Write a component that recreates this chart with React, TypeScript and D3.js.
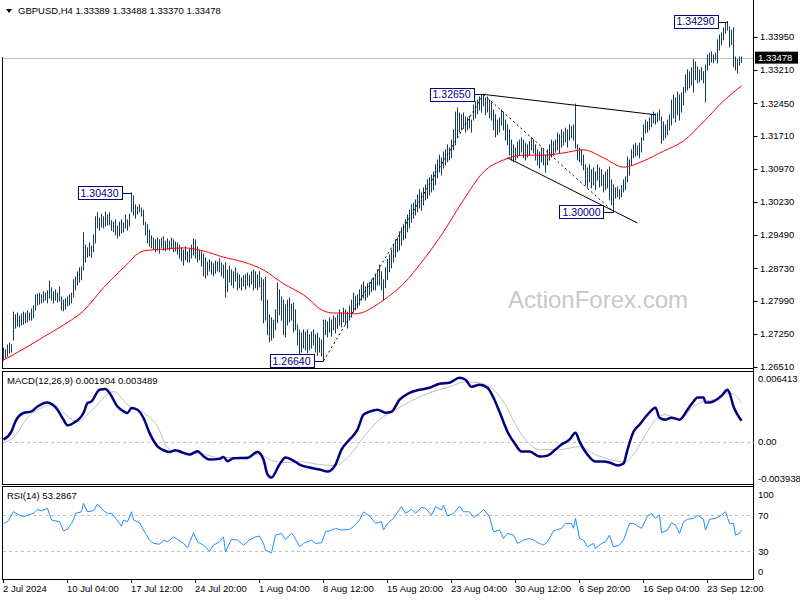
import React from 'react';
import * as d3 from 'd3';

// ---------- DATA ----------
const barHigh = [
1.2693,1.2689,1.2700,1.2704,1.2700,1.2774,1.2768,1.2772,1.2765,1.2770,
1.2774,1.2772,1.2777,1.2772,1.2781,1.2788,1.2813,1.2815,1.2817,1.2813,
1.2820,1.2817,1.2822,1.2844,1.2829,1.2820,1.2824,1.2817,1.2831,1.2808,
1.2801,1.2804,1.2808,1.2813,1.2817,1.2847,1.2853,1.2865,1.2874,1.2876,
1.2953,1.2925,1.2919,1.2930,1.2923,1.2948,1.2989,1.2998,1.2986,1.2995,
1.2989,1.3000,1.2993,1.2998,1.2980,1.2977,1.2982,1.2968,1.2977,1.2982,
1.2975,1.2993,1.2982,1.2995,1.3043,1.3036,1.3016,1.3011,1.3016,1.3009,
1.3004,1.2977,1.2971,1.2959,1.2946,1.2941,1.2937,1.2941,1.2937,1.2941,
1.2944,1.2934,1.2939,1.2934,1.2941,1.2937,1.2932,1.2930,1.2925,1.2919,
1.2914,1.2921,1.2910,1.2916,1.2925,1.2939,1.2937,1.2921,1.2914,1.2910,
1.2905,1.2896,1.2887,1.2892,1.2887,1.2883,1.2889,1.2887,1.2894,1.2885,
1.2880,1.2885,1.2869,1.2878,1.2869,1.2865,1.2874,1.2862,1.2858,1.2851,
1.2856,1.2858,1.2862,1.2856,1.2865,1.2869,1.2865,1.2858,1.2865,1.2851,
1.2847,1.2853,1.2801,1.2768,1.2761,1.2756,1.2779,1.2840,1.2824,1.2808,
1.2801,1.2790,1.2801,1.2806,1.2792,1.2795,1.2779,1.2745,1.2734,1.2727,
1.2734,1.2729,1.2734,1.2723,1.2729,1.2734,1.2723,1.2727,1.2716,1.2711,
1.2756,1.2756,1.2752,1.2761,1.2756,1.2765,1.2761,1.2768,1.2779,1.2772,
1.2783,1.2779,1.2774,1.2788,1.2801,1.2817,1.2810,1.2813,1.2824,1.2835,
1.2842,1.2831,1.2838,1.2840,1.2847,1.2851,1.2858,1.2869,1.2880,1.2865,
1.2847,1.2874,1.2892,1.2903,1.2914,1.2925,1.2937,1.2941,1.2955,1.2964,
1.2971,1.2982,1.2993,1.3004,1.3016,1.3020,1.3027,1.3038,1.3050,1.3043,
1.3054,1.3061,1.3072,1.3077,1.3083,1.3090,1.3106,1.3117,1.3128,1.3122,
1.3135,1.3140,1.3151,1.3144,1.3162,1.3185,1.3225,1.3234,1.3223,1.3219,
1.3223,1.3214,1.3212,1.3216,1.3207,1.3241,1.3248,1.3252,1.3259,1.3264,
1.3265,1.3257,1.3259,1.3252,1.3246,1.3230,1.3219,1.3207,1.3212,1.3230,
1.3225,1.3207,1.3196,1.3185,1.3162,1.3151,1.3144,1.3158,1.3162,1.3167,
1.3162,1.3155,1.3151,1.3158,1.3167,1.3162,1.3151,1.3140,1.3135,1.3144,
1.3140,1.3128,1.3140,1.3151,1.3162,1.3158,1.3162,1.3178,1.3174,1.3185,
1.3180,1.3189,1.3185,1.3196,1.3192,1.3196,1.3243,1.3151,1.3144,1.3140,
1.3128,1.3106,1.3099,1.3106,1.3095,1.3099,1.3090,1.3106,1.3099,1.3095,
1.3083,1.3090,1.3095,1.3101,1.3072,1.3061,1.3054,1.3056,1.3050,1.3059,
1.3072,1.3079,1.3124,1.3117,1.3140,1.3151,1.3155,1.3149,1.3155,1.3167,
1.3196,1.3207,1.3203,1.3212,1.3219,1.3225,1.3221,1.3223,1.3230,1.3214,
1.3203,1.3196,1.3207,1.3219,1.3252,1.3264,1.3257,1.3270,1.3264,1.3268,
1.3280,1.3309,1.3320,1.3316,1.3325,1.3343,1.3338,1.3327,1.3320,1.3325,
1.3316,1.3331,1.3354,1.3358,1.3361,1.3354,1.3358,1.3388,1.3399,1.3403,
1.3415,1.3426,1.3429,1.3417,1.3410,1.3415,1.3349,1.3343,1.3349,1.33488
];

const barLow = [
1.2666,1.2671,1.2675,1.2682,1.2684,1.2711,1.2738,1.2743,1.2741,1.2745,
1.2747,1.2750,1.2752,1.2756,1.2756,1.2761,1.2779,1.2790,1.2792,1.2795,
1.2797,1.2801,1.2795,1.2806,1.2801,1.2795,1.2801,1.2797,1.2799,1.2779,
1.2777,1.2781,1.2788,1.2790,1.2795,1.2808,1.2824,1.2835,1.2842,1.2847,
1.2869,1.2887,1.2898,1.2901,1.2898,1.2910,1.2930,1.2964,1.2959,1.2966,
1.2964,1.2968,1.2971,1.2971,1.2959,1.2955,1.2948,1.2941,1.2946,1.2953,
1.2955,1.2964,1.2959,1.2968,1.3000,1.2993,1.2986,1.2995,1.3000,1.2991,
1.2971,1.2948,1.2930,1.2923,1.2919,1.2916,1.2910,1.2914,1.2907,1.2919,
1.2914,1.2912,1.2916,1.2914,1.2919,1.2910,1.2912,1.2905,1.2896,1.2889,
1.2880,1.2892,1.2887,1.2887,1.2896,1.2903,1.2896,1.2887,1.2892,1.2878,
1.2856,1.2851,1.2858,1.2867,1.2860,1.2856,1.2862,1.2867,1.2865,1.2856,
1.2851,1.2808,1.2820,1.2842,1.2835,1.2829,1.2844,1.2824,1.2829,1.2824,
1.2833,1.2826,1.2835,1.2831,1.2838,1.2824,1.2829,1.2824,1.2831,1.2801,
1.2750,1.2756,1.2723,1.2707,1.2711,1.2716,1.2734,1.2750,1.2768,1.2756,
1.2723,1.2718,1.2745,1.2752,1.2756,1.2729,1.2734,1.2700,1.2677,1.2684,
1.2693,1.2689,1.2682,1.2689,1.2693,1.2700,1.2684,1.2677,1.2684,1.2675,
1.2664,1.2723,1.2718,1.2729,1.2720,1.2734,1.2727,1.2738,1.2745,1.2741,
1.2752,1.2747,1.2738,1.2756,1.2763,1.2774,1.2779,1.2783,1.2790,1.2801,
1.2806,1.2801,1.2808,1.2813,1.2820,1.2824,1.2824,1.2835,1.2835,1.2824,
1.2801,1.2829,1.2847,1.2865,1.2874,1.2887,1.2898,1.2910,1.2914,1.2925,
1.2937,1.2941,1.2955,1.2964,1.2977,1.2986,1.2993,1.3000,1.3009,1.3004,
1.3016,1.3027,1.3031,1.3038,1.3045,1.3050,1.3061,1.3077,1.3090,1.3083,
1.3099,1.3106,1.3113,1.3117,1.3122,1.3140,1.3151,1.3167,1.3180,1.3185,
1.3189,1.3180,1.3185,1.3189,1.3180,1.3207,1.3212,1.3221,1.3230,1.3225,
1.3239,1.3219,1.3225,1.3212,1.3207,1.3185,1.3169,1.3174,1.3180,1.3196,
1.3185,1.3162,1.3151,1.3128,1.3117,1.3113,1.3117,1.3122,1.3128,1.3135,
1.3122,1.3117,1.3124,1.3128,1.3140,1.3133,1.3117,1.3106,1.3099,1.3113,
1.3106,1.3090,1.3106,1.3117,1.3124,1.3128,1.3135,1.3140,1.3133,1.3146,
1.3151,1.3158,1.3146,1.3162,1.3167,1.3162,1.3144,1.3117,1.3113,1.3106,
1.3095,1.3061,1.3056,1.3068,1.3054,1.3061,1.3050,1.3072,1.3056,1.3059,
1.3045,1.3050,1.3054,1.3027,1.3016,1.3000,1.3031,1.3034,1.3029,1.3034,
1.3045,1.3050,1.3068,1.3083,1.3106,1.3122,1.3126,1.3128,1.3122,1.3135,
1.3162,1.3178,1.3180,1.3185,1.3192,1.3201,1.3198,1.3203,1.3207,1.3155,
1.3162,1.3167,1.3174,1.3185,1.3196,1.3212,1.3203,1.3219,1.3207,1.3225,
1.3241,1.3270,1.3275,1.3280,1.3286,1.3270,1.3298,1.3291,1.3293,1.3298,
1.3291,1.3248,1.3320,1.3331,1.3338,1.3336,1.3343,1.3336,1.3365,1.3377,
1.3388,1.3403,1.3410,1.3372,1.3377,1.3327,1.3320,1.3313,1.3331,1.33370
];

// moving average samples [bar index, price]
const maLine: [number, number][] = [
[0,1.2666],[10,1.2691],[20,1.2718],[30,1.2745],[40,1.2777],[50,1.2829],[60,1.2874],
[70,1.2912],[80,1.2916],[90,1.2919],[100,1.2912],[110,1.2898],[120,1.2887],[130,1.2869],
[140,1.2838],[150,1.2813],[160,1.2777],[165,1.2772],[170,1.2772],[175,1.2770],[180,1.2774],
[185,1.2786],[190,1.2801],[200,1.2838],[210,1.2892],[220,1.2955],[230,1.3027],[240,1.3090],
[250,1.3117],[260,1.3128],[270,1.3128],[280,1.3133],[290,1.3140],[300,1.3122],[310,1.3101],
[320,1.3115],[330,1.3137],[340,1.3160],[350,1.3203],[360,1.3250],[369,1.3284]
];

const macdLine: [number, number][] = [
[0,0.00017],[4,0.00093],[6,0.00184],[10,0.00261],[14,0.00276],[17,0.00321],[22,0.00358],[27,0.00291],
[30,0.00200],[32,0.00148],[35,0.00170],[40,0.00261],[42,0.00352],[44,0.00367],[48,0.00474],[51,0.00480],
[53,0.00444],[57,0.00321],[60,0.00276],[62,0.00261],[64,0.00307],[67,0.00291],[70,0.00215],[73,0.00079],
[77,-0.00044],[80,-0.00080],[83,-0.00095],[86,-0.00080],[90,-0.00104],[93,-0.00120],[97,-0.00089],
[100,-0.00135],[103,-0.00165],[108,-0.00159],[110,-0.00141],[112,-0.00181],[115,-0.00153],[122,-0.00150],
[127,-0.00095],[130,-0.00165],[132,-0.00302],[134,-0.00330],[138,-0.00211],[141,-0.00147],[144,-0.00165],
[148,-0.00211],[153,-0.00238],[158,-0.00257],[162,-0.00275],[166,-0.00211],[169,-0.00074],[173,0.00017],
[177,0.00109],[180,0.00246],[183,0.00273],[187,0.00291],[191,0.00264],[194,0.00273],[198,0.00383],
[203,0.00446],[208,0.00474],[213,0.00492],[218,0.00529],[223,0.00538],[228,0.00584],[231,0.00566],
[234,0.00501],[238,0.00520],[242,0.00492],[245,0.00401],[248,0.00273],[252,0.00090],[256,-0.00028],
[259,-0.00092],[263,-0.00092],[268,-0.00138],[272,-0.00129],[276,-0.00074],[279,-0.00028],[283,0.00017],
[286,0.00081],[288,-0.00001],[292,-0.00120],[296,-0.00184],[300,-0.00184],[303,-0.00193],[307,-0.00220],
[310,-0.00202],[312,-0.00074],[315,0.00090],[318,0.00154],[322,0.00246],[326,0.00310],[328,0.00218],
[331,0.00200],[334,0.00218],[338,0.00200],[342,0.00291],[345,0.00367],[347,0.00404],[350,0.00404],
[351,0.00358],[353,0.00358],[357,0.00389],[359,0.00419],[362,0.00474],[363,0.00444],[365,0.00321],
[367,0.00246],[369,0.00190]
];

const signalLine: [number, number][] = [
[0,-0.00010],[5,0.00036],[12,0.00218],[18,0.00300],[25,0.00337],[30,0.00264],[37,0.00182],[43,0.00264],
[55,0.00458],[63,0.00321],[70,0.00264],[77,0.00139],[82,-0.00056],[88,-0.00101],[98,-0.00110],
[108,-0.00147],[118,-0.00147],[128,-0.00120],[133,-0.00165],[141,-0.00193],[148,-0.00184],[158,-0.00211],
[166,-0.00220],[173,-0.00129],[181,0.00063],[188,0.00200],[196,0.00291],[203,0.00364],[213,0.00446],
[223,0.00501],[231,0.00547],[238,0.00538],[246,0.00456],[251,0.00337],[256,0.00154],[261,0.00017],
[268,-0.00074],[278,-0.00074],[288,-0.00047],[296,-0.00120],[303,-0.00165],[311,-0.00184],[316,-0.00092],
[321,0.00063],[326,0.00200],[331,0.00246],[338,0.00200],[345,0.00321],[350,0.00367],[357,0.00389],
[362,0.00444],[365,0.00435],[369,0.00349]
];

const rsiLine: [number, number][] = [
[0,61.1],[2,62.9],[5,74.0],[8,70.3],[10,68.4],[12,70.3],[15,72.2],[17,76.7],[19,75.1],[22,77.8],
[24,64.8],[28,62.9],[30,52.9],[32,54.4],[35,64.8],[36,72.2],[39,74.0],[40,83.3],[42,74.0],[45,75.1],
[47,82.6],[49,77.8],[50,75.1],[52,72.2],[54,72.2],[56,66.7],[59,58.1],[60,64.8],[62,62.9],[64,74.0],
[65,64.8],[68,61.8],[70,53.7],[73,42.6],[75,38.9],[78,38.1],[80,42.6],[82,40.7],[85,46.2],[87,43.3],
[90,38.9],[92,34.0],[95,50.7],[97,40.7],[100,37.0],[103,30.3],[105,37.0],[108,40.7],[110,46.2],[111,29.6],
[114,43.3],[117,42.6],[120,37.0],[123,42.6],[126,46.2],[128,47.0],[130,38.9],[131,31.4],[134,28.4],
[136,48.1],[139,50.0],[141,43.3],[144,50.0],[145,48.1],[148,35.1],[150,38.9],[154,42.6],[156,38.9],
[159,39.6],[161,51.8],[164,53.7],[166,55.6],[169,53.7],[173,54.4],[175,57.3],[178,64.8],[180,74.0],
[183,69.2],[186,61.1],[189,62.9],[190,53.7],[192,61.1],[195,66.7],[198,76.7],[199,79.6],[201,72.2],
[204,76.7],[206,72.2],[209,78.9],[211,77.8],[214,70.3],[216,79.6],[219,75.9],[220,81.4],[222,69.2],
[225,72.2],[228,80.3],[230,74.0],[233,74.0],[235,67.8],[238,72.2],[240,76.7],[243,68.4],[245,51.8],
[248,53.7],[250,44.4],[252,50.0],[255,48.1],[257,38.9],[260,42.6],[263,44.4],[265,42.6],[268,38.9],
[270,37.0],[272,40.7],[275,52.9],[279,55.6],[281,61.1],[284,61.1],[285,55.6],[286,66.7],[288,44.4],
[290,42.6],[292,35.1],[295,38.9],[296,33.3],[299,38.9],[301,40.7],[303,48.1],[305,35.1],[308,37.0],
[310,42.6],[313,61.1],[315,61.1],[319,55.6],[322,69.2],[324,72.2],[326,66.7],[328,70.3],[329,50.7],
[332,53.7],[334,61.8],[336,59.2],[338,50.0],[340,62.9],[342,65.6],[345,66.7],[347,70.3],[350,65.6],
[351,53.7],[353,65.6],[356,66.7],[359,70.3],[361,74.0],[363,61.1],[365,61.1],[366,48.1],[368,50.0],
[369,53.3]
];

const priceTicks = [1.3395, 1.3321, 1.3245, 1.3171, 1.3097, 1.3023, 1.2949, 1.2873, 1.2799, 1.2725, 1.2651];
const timeTickBars = [0, 32, 64, 96, 128, 160, 192, 224, 256, 288, 320, 352];
const timeTickLabels = ['2 Jul 2024', '10 Jul 04:00', '17 Jul 12:00', '24 Jul 20:00', '1 Aug 04:00', '8 Aug 12:00',
  '15 Aug 20:00', '23 Aug 04:00', '30 Aug 12:00', '6 Sep 20:00', '16 Sep 04:00', '23 Sep 12:00'];

const pivotBars = [362, 240, 64, 160, 305];
const pivotPrices = [1.3429, 1.3265, 1.3043, 1.2664, 1.3000];
const pivotLabels = ['1.34290', '1.32650', '1.30430', '1.26640', '1.30000'];

const trendLines = [
  { b1: 240, p1: 1.3265, b2: 326, p2: 1.3219, dashed: false },
  { b1: 252, p1: 1.3122, b2: 317, p2: 1.2975, dashed: false },
  { b1: 160, p1: 1.2664, b2: 240, p2: 1.3265, dashed: true },
  { b1: 240, p1: 1.3265, b2: 305, p2: 1.3000, dashed: true },
];

const lastPrice = 1.33478;
const ohlcTitle = 'GBPUSD,H4  1.33389 1.33488 1.33370 1.33478';
const macdTitle = 'MACD(12,26,9) 0.001904 0.003489';
const rsiTitle = 'RSI(14) 53.2867';
const macdMax = 0.006413;
const macdMin = -0.003938;
const rsiLevels = [70, 30];
const rsiAxis = [100, 70, 30, 0];

const FONT = '"Liberation Sans", Arial, sans-serif';

export default function App() {
  const n = barHigh.length;
  const x = d3.scaleLinear().domain([0, n - 1]).range([3.5, 3.5 + 2 * (n - 1)]);
  const yP = d3.scaleLinear().domain([1.2651, 1.3395]).range([366.7, 36.7]);
  const yM = d3.scaleLinear().domain([macdMin, macdMax]).range([484.5, 371.5]);
  const yR = d3.scaleLinear().domain([0, 100]).range([578.5, 488.3]);

  const maPath = d3.line<[number, number]>().x(d => x(d[0])).y(d => yP(d[1])).curve(d3.curveMonotoneX)(maLine) || '';
  const macdPath = d3.line<[number, number]>().x(d => x(d[0])).y(d => yM(d[1])).curve(d3.curveMonotoneX)(macdLine) || '';
  const sigPath = d3.line<[number, number]>().x(d => x(d[0])).y(d => yM(d[1])).curve(d3.curveMonotoneX)(signalLine) || '';
  const rsiPath = d3.line<[number, number]>().x(d => x(d[0])).y(d => yR(d[1]))(rsiLine) || '';

  const axisX = 753.5;
  const fmt5 = d3.format('.5f');

  return (
    <svg width={800} height={600} style={{ position: 'absolute', left: 0, top: 0, background: '#fff' }}
      fontFamily={FONT}>
      <rect x={0} y={0} width={800} height={600} fill="#ffffff" />

      {/* watermark */}
      <text x={508} y={308} fontSize={24} fill="#c8c8c8">ActionForex.com</text>

      {/* current price line */}
      <line x1={2} x2={axisX} y1={Math.round(yP(lastPrice)) + 0.5} y2={Math.round(yP(lastPrice)) + 0.5} stroke="#c0c0c0" />

      {/* bars */}
      <g stroke="#143c58" strokeWidth={1}>
        {barHigh.map((h, i) => (
          <line key={i} x1={x(i)} x2={x(i)} y1={yP(h) - 0.5} y2={yP(barLow[i]) + 0.5} />
        ))}
      </g>

      {/* MA */}
      <path d={maPath} fill="none" stroke="#ff0000" strokeWidth={1} />

      {/* trend lines */}
      {trendLines.map((t, i) => (
        <line key={i} x1={x(t.b1)} y1={yP(t.p1)} x2={x(t.b2)} y2={yP(t.p2)} stroke="#000"
          strokeWidth={1} strokeDasharray={t.dashed ? '2,3' : undefined} />
      ))}

      {/* pivot labels */}
      {pivotBars.map((b, i) => {
        const cx = x(b);
        const cy = yP(pivotPrices[i]);
        const right = cx - 10;
        const w = 44;
        return (
          <g key={i}>
            <line x1={right} x2={cx} y1={Math.round(cy) + 0.5} y2={Math.round(cy) + 0.5} stroke="#000080" />
            <rect x={Math.round(right - w) + 0.5} y={Math.round(cy - 6.5) + 0.5} width={w} height={13} fill="#fff" stroke="#000080" />
            <text x={right - 3} y={cy} dy="0.35em" textAnchor="end" fontSize={10.5} fill="#000080">{pivotLabels[i]}</text>
          </g>
        );
      })}

      {/* title */}
      <path d="M6,9 L12,9 L9,13 Z" fill="#000" />
      <text x={18} y={14} fontSize={9.5} fill="#000">{ohlcTitle}</text>

      {/* main panel frame */}
      <line x1={2.5} x2={2.5} y1={57} y2={368.5} stroke="#000" />
      <line x1={2} x2={axisX} y1={368.5} y2={368.5} stroke="#000" />
      <line x1={axisX} x2={axisX} y1={0} y2={579.5} stroke="#000" />

      {/* price axis */}
      {priceTicks.map((p, i) => (
        <g key={i}>
          <line x1={axisX} x2={axisX + 4} y1={Math.round(yP(p)) + 0.5} y2={Math.round(yP(p)) + 0.5} stroke="#000" />
          <text x={760} y={yP(p)} dy="0.35em" fontSize={9.5} fill="#000">{fmt5(p)}</text>
        </g>
      ))}
      <rect x={755} y={yP(lastPrice) - 6} width={43} height={12} fill="#000" />
      <text x={758} y={yP(lastPrice)} dy="0.35em" fontSize={9.5} fill="#fff">{fmt5(lastPrice)}</text>

      {/* MACD panel */}
      <rect x={2.5} y={371.5} width={axisX - 2.5} height={113} fill="none" stroke="#000" />
      <line x1={3} x2={axisX} y1={Math.round(yM(0)) + 0.5} y2={Math.round(yM(0)) + 0.5} stroke="#c0c0c0" strokeDasharray="3,3" />
      <path d={sigPath} fill="none" stroke="#c0c0c0" strokeWidth={1} />
      <path d={macdPath} fill="none" stroke="#000080" strokeWidth={2.5} strokeLinejoin="round" />
      <text x={7} y={384} fontSize={9.5} fill="#000">{macdTitle}</text>
      <text x={758} y={378.5} dy="0.35em" fontSize={9.5} fill="#000">{macdMax.toFixed(6)}</text>
      <text x={758} y={yM(0)} dy="0.35em" fontSize={9.5} fill="#000">0.00</text>
      <text x={758} y={478.3} dy="0.35em" fontSize={9.5} fill="#000">{macdMin.toFixed(6)}</text>

      {/* RSI panel */}
      <rect x={2.5} y={486.5} width={axisX - 2.5} height={93} fill="none" stroke="#000" />
      {rsiLevels.map(l => (
        <line key={l} x1={3} x2={axisX} y1={Math.round(yR(l)) + 0.5} y2={Math.round(yR(l)) + 0.5} stroke="#c0c0c0" strokeDasharray="3,3" />
      ))}
      <path d={rsiPath} fill="none" stroke="#1e90ff" strokeWidth={1} />
      <text x={7} y={499} fontSize={9.5} fill="#000">{rsiTitle}</text>
      {rsiAxis.map(v => {
        const yy = v === 100 ? 494.3 : v === 0 ? 572 : yR(v);
        return <text key={v} x={758} y={yy} dy="0.35em" fontSize={9.5} fill="#000">{v}</text>;
      })}

      {/* time axis */}
      {timeTickBars.map((b, i) => (
        <g key={i}>
          <line x1={Math.round(x(b) - 0.5) + 0.5} x2={Math.round(x(b) - 0.5) + 0.5} y1={579.5} y2={583} stroke="#000" />
          <text x={x(b) - 0.5} y={592} fontSize={9.5} fill="#000">{timeTickLabels[i]}</text>
        </g>
      ))}
    </svg>
  );
}
